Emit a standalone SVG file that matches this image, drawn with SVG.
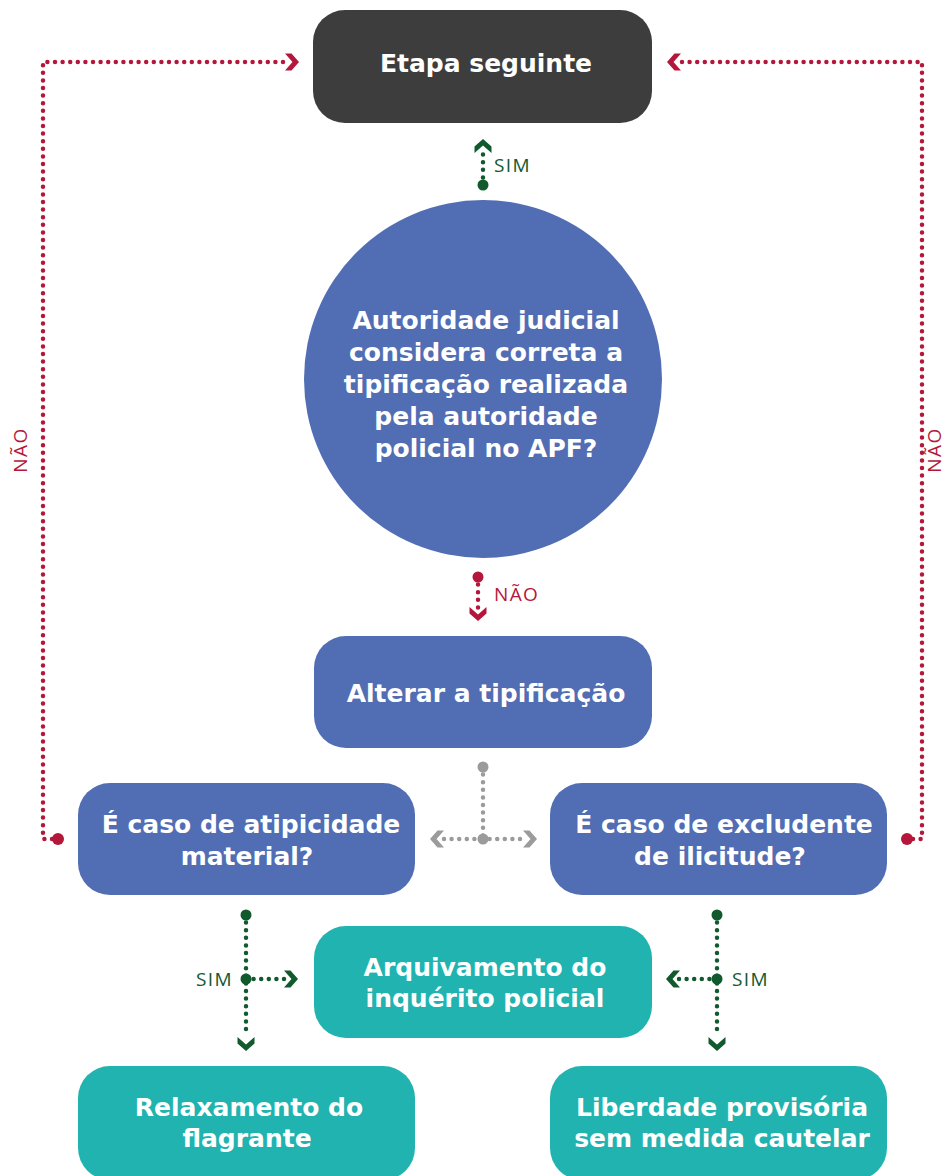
<svg xmlns="http://www.w3.org/2000/svg" width="947" height="1176" viewBox="0 0 947 1176">
<style>
.box{stroke:none}
.dark{fill:#3d3d3d}
.blue{fill:#516db3}
.teal{fill:#20b3b0}
.t{font-family:"DejaVu Sans","Liberation Sans",sans-serif;font-weight:700;font-size:25px;fill:#fff;text-anchor:middle}
.lbl{font-family:"Open Sans","Liberation Sans",sans-serif;font-size:19px;letter-spacing:1.4px}
.dot{fill:none;stroke-width:4.5;stroke-linecap:round;stroke-dasharray:0 7.6}
.red{stroke:#b5173b}
.green{stroke:#115a2d}
.gray{stroke:#9b9b9b}
</style>
<defs>
<path id="chev" d="M-14,-8.5 L-7.5,-8.5 L0,0 L-7.5,8.5 L-14,8.5 L-6.5,0 Z"/>
</defs>
<g id="connectors">
  <g id="c-left-nao">
    <path class="dot red" d="M52,839 L43,839 L43,62 L288,62"/>
    <circle cx="58" cy="839" r="6" fill="#b5173b"/>
    <use href="#chev" transform="translate(299,62)" fill="#b5173b"/>
    <text class="lbl" fill="#b5173b" transform="translate(27,450) rotate(-90)" text-anchor="middle">NÃO</text>
  </g>
  <g id="c-right-nao">
    <path class="dot red" d="M913,839 L922,839 L922,62 L678,62"/>
    <circle cx="907" cy="839" r="6" fill="#b5173b"/>
    <use href="#chev" transform="translate(667,62) rotate(180)" fill="#b5173b"/>
    <text class="lbl" fill="#b5173b" transform="translate(941,450) rotate(-90)" text-anchor="middle">NÃO</text>
  </g>
  <g id="c-sim-top">
    <path class="dot green" d="M483,185 L483,152"/>
    <circle cx="483" cy="185" r="5.5" fill="#115a2d"/>
    <use href="#chev" transform="translate(483,139) rotate(-90)" fill="#115a2d"/>
    <text class="lbl" fill="#115a2d" x="494" y="172">SIM</text>
  </g>
  <g id="c-nao-mid">
    <path class="dot red" d="M478,577 L478,608"/>
    <circle cx="478" cy="577" r="5.5" fill="#b5173b"/>
    <use href="#chev" transform="translate(478,621) rotate(90)" fill="#b5173b"/>
    <text class="lbl" fill="#b5173b" x="494" y="601">NÃO</text>
  </g>
  <g id="c-split">
    <path class="dot gray" d="M483,767 L483,839"/>
    <path class="dot gray" d="M444,839 L522,839"/>
    <circle cx="483" cy="767" r="5.5" fill="#9b9b9b"/>
    <circle cx="483" cy="839" r="5.5" fill="#9b9b9b"/>
    <use href="#chev" transform="translate(430,839) rotate(180)" fill="#9b9b9b"/>
    <use href="#chev" transform="translate(537,839)" fill="#9b9b9b"/>
  </g>
  <g id="c-sim-left">
    <path class="dot green" d="M246,915 L246,1033"/>
    <path class="dot green" d="M246,979 L285,979"/>
    <circle cx="246" cy="915" r="5.5" fill="#115a2d"/>
    <circle cx="246" cy="979" r="5.5" fill="#115a2d"/>
    <use href="#chev" transform="translate(298,979)" fill="#115a2d"/>
    <use href="#chev" transform="translate(246,1051) rotate(90)" fill="#115a2d"/>
    <text class="lbl" fill="#115a2d" x="233" y="986" text-anchor="end">SIM</text>
  </g>
  <g id="c-sim-right">
    <path class="dot green" d="M717,915 L717,1033"/>
    <path class="dot green" d="M717,979 L679,979"/>
    <circle cx="717" cy="915" r="5.5" fill="#115a2d"/>
    <circle cx="717" cy="979" r="5.5" fill="#115a2d"/>
    <use href="#chev" transform="translate(666,979) rotate(180)" fill="#115a2d"/>
    <use href="#chev" transform="translate(717,1051) rotate(90)" fill="#115a2d"/>
    <text class="lbl" fill="#115a2d" x="732" y="986">SIM</text>
  </g>
</g>
<g id="n-etapa">
  <rect class="box dark" x="313" y="10" width="339" height="113" rx="32"/>
  <text class="t" x="486" y="72">Etapa seguinte</text>
</g>
<g id="n-autoridade">
  <circle class="blue" cx="483" cy="379" r="179"/>
  <text class="t" x="486" y="329">Autoridade judicial</text>
  <text class="t" x="486" y="361">considera correta a</text>
  <text class="t" x="486" y="393">tipificação realizada</text>
  <text class="t" x="486" y="425">pela autoridade</text>
  <text class="t" x="486" y="457">policial no APF?</text>
</g>
<g id="n-alterar">
  <rect class="box blue" x="314" y="636" width="338" height="112" rx="32"/>
  <text class="t" x="486" y="702">Alterar a tipificação</text>
</g>
<g id="n-atipicidade">
  <rect class="box blue" x="78" y="783" width="337" height="112" rx="32"/>
  <text class="t" x="251" y="833">É caso de atipicidade</text>
  <text class="t" x="247" y="865">material?</text>
</g>
<g id="n-excludente">
  <rect class="box blue" x="550" y="783" width="337" height="112" rx="32"/>
  <text class="t" x="724" y="833">É caso de excludente</text>
  <text class="t" x="720" y="865">de ilicitude?</text>
</g>
<g id="n-arquivamento">
  <rect class="box teal" x="314" y="926" width="338" height="112" rx="32"/>
  <text class="t" x="485" y="976">Arquivamento do</text>
  <text class="t" x="485" y="1007">inquérito policial</text>
</g>
<g id="n-relaxamento">
  <rect class="box teal" x="78" y="1066" width="337" height="114" rx="32"/>
  <text class="t" x="249" y="1116">Relaxamento do</text>
  <text class="t" x="247" y="1147">flagrante</text>
</g>
<g id="n-liberdade">
  <rect class="box teal" x="550" y="1066" width="337" height="114" rx="32"/>
  <text class="t" x="722" y="1116">Liberdade provisória</text>
  <text class="t" x="722" y="1147">sem medida cautelar</text>
</g>
</svg>
